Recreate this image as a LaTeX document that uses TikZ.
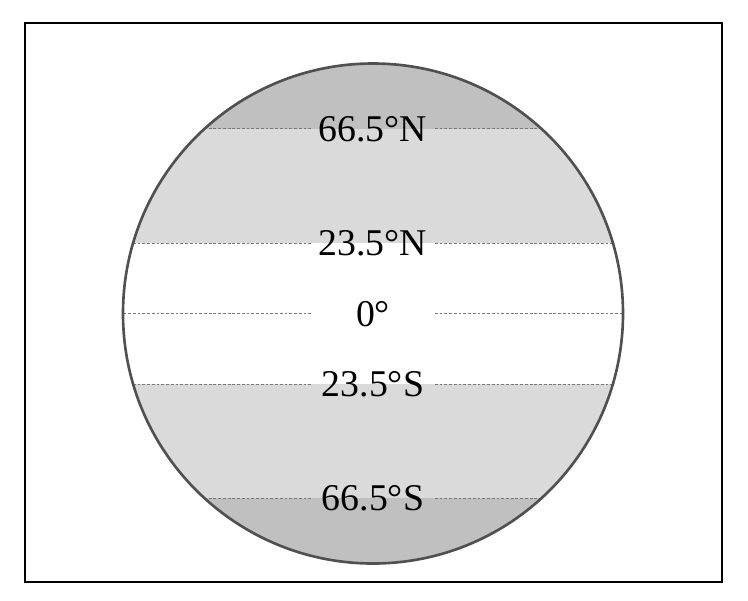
\documentclass[tikz,border=0pt]{standalone}
\usepackage{fontspec}
\setmainfont{Liberation Serif}
\usepackage{tikz}

\definecolor{polargray}{RGB}{192,192,192}
\definecolor{tempgray}{RGB}{218,218,218}
\definecolor{rimgray}{RGB}{80,80,80}
\definecolor{dashgray}{RGB}{120,120,120}

\begin{document}
\begin{tikzpicture}[
            x=0.02cm, y=-0.02cm,
            frame/.style = {draw=black, line width=1.6pt},
            rim/.style = {draw=rimgray, line width=1.5pt},
            latline/.style = {draw=dashgray, line width=0.5pt, dash pattern=on 1.6pt off 1.1pt},
            latlabel/.style = {inner sep=0pt, minimum width=2.46cm, text height=14.6pt, text depth=0pt,
                               font=\fontsize{21.5}{25}\selectfont},
        ]
            \useasboundingbox (0,0) rectangle (748,600);

            % Outer frame
            \draw[frame] (25,23) rectangle (722,582);

            % Globe centre
            \coordinate (c) at (373,313.5);

            % Zones, clipped to the globe
            \begin{scope}
                \clip (c) circle (250);
                \fill[polargray] (100,40) rectangle (650,128.5);
                \fill[tempgray] (100,128.5) rectangle (650,243);
                \fill[tempgray] (100,384) rectangle (650,498);
                \fill[polargray] (100,498) rectangle (650,590);
            \end{scope}

            % Latitude labels
            \node[latlabel] (N66) at (373,128.5) {66.5°N};
            \node[latlabel] (N23) at (373,243) {23.5°N};
            \node[latlabel] (Eq) at (373,313.5) {0°};
            \node[latlabel] (S23) at (373,384) {23.5°S};
            \node[latlabel] (S66) at (373,498) {66.5°S};

            % Dashed latitude lines, from the rim to the labels
            \begin{scope}
                \clip (c) circle (250);
                \foreach \lat in {N66,N23,Eq,S23,S66} {
                    \draw[latline] (\lat.west) -- ++(-260,0);
                    \draw[latline] (\lat.east) -- ++(260,0);
                }
            \end{scope}

            % Globe outline
            \draw[rim] (c) circle (250);
        \end{tikzpicture}
\end{document}
